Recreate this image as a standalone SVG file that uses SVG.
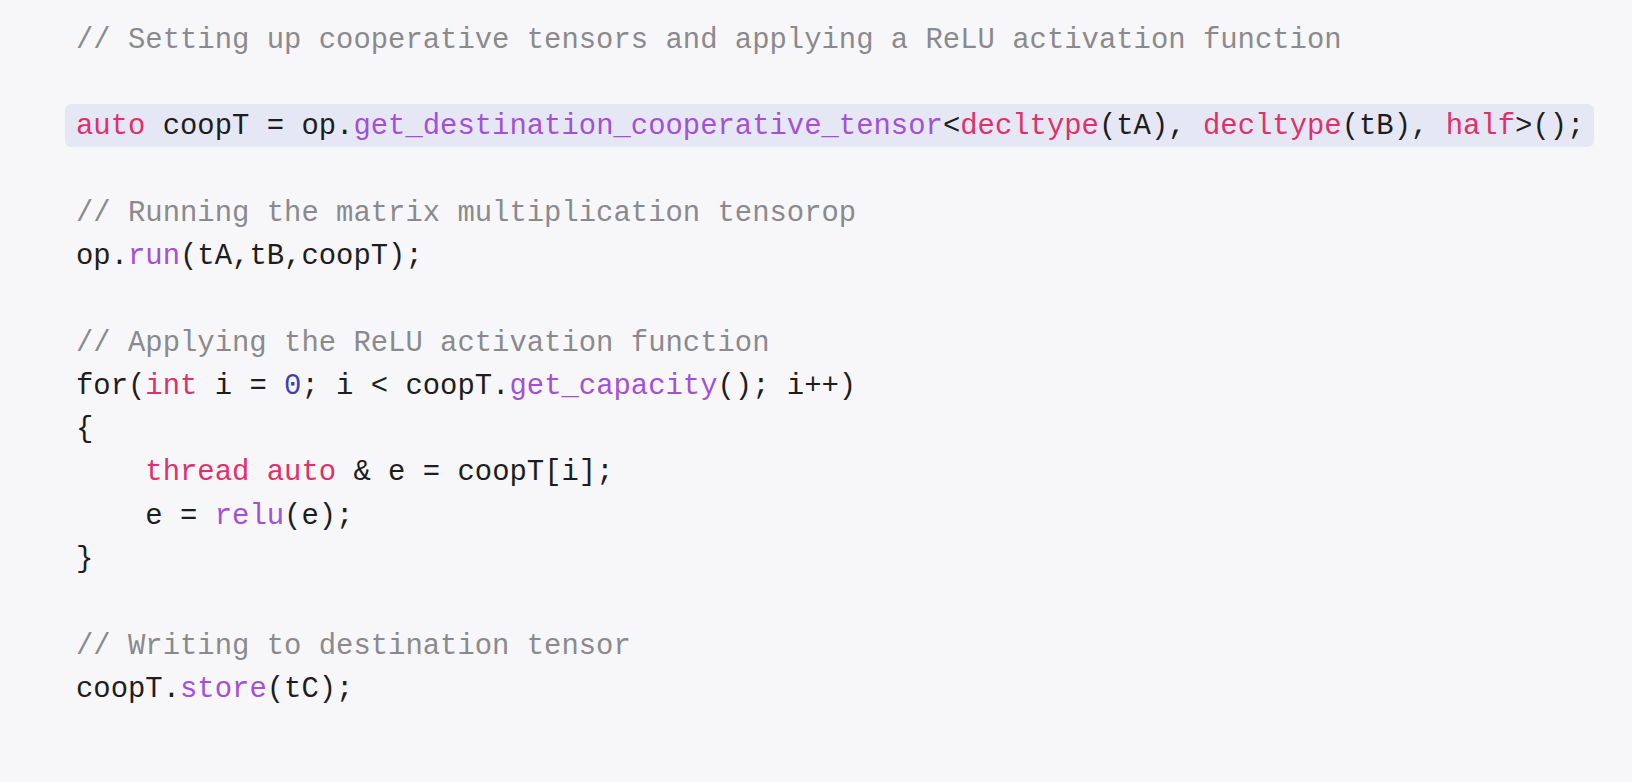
<svg xmlns="http://www.w3.org/2000/svg" width="1632" height="782" viewBox="0 0 1632 782">
<style>
text{font-family:"Liberation Mono","DejaVu Sans Mono",monospace;font-size:28.9px;fill:#1d1d1f;white-space:pre}
.c{fill:#8a8a8e}.k{fill:#e0306b}.f{fill:#a54fd8}.n{fill:#3d3fb5}
</style>
<rect width="1632" height="782" fill="#f7f7f9"/>
<rect x="65" y="104" width="1529" height="43" rx="6" fill="#e5e8f4"/>
<g id="code" xml:space="preserve">
<text x="76" y="48" class="c">// Setting up cooperative tensors and applying a ReLU activation function</text>
<text x="76" y="134"><tspan class="k">auto</tspan> coopT = op.<tspan class="f">get_destination_cooperative_tensor</tspan>&lt;<tspan class="k">decltype</tspan>(tA), <tspan class="k">decltype</tspan>(tB), <tspan class="k">half</tspan>&gt;();</text>
<text x="76" y="221" class="c">// Running the matrix multiplication tensorop</text>
<text x="76" y="264">op.<tspan class="f">run</tspan>(tA,tB,coopT);</text>
<text x="76" y="351" class="c">// Applying the ReLU activation function</text>
<text x="76" y="394">for(<tspan class="k">int</tspan> i = <tspan class="n">0</tspan>; i &lt; coopT.<tspan class="f">get_capacity</tspan>(); i++)</text>
<text x="76" y="437">{</text>
<text x="76" y="480">    <tspan class="k">thread</tspan> <tspan class="k">auto</tspan> &amp; e = coopT[i];</text>
<text x="76" y="524">    e = <tspan class="f">relu</tspan>(e);</text>
<text x="76" y="567">}</text>
<text x="76" y="654" class="c">// Writing to destination tensor</text>
<text x="76" y="697">coopT.<tspan class="f">store</tspan>(tC);</text>
</g>
</svg>
